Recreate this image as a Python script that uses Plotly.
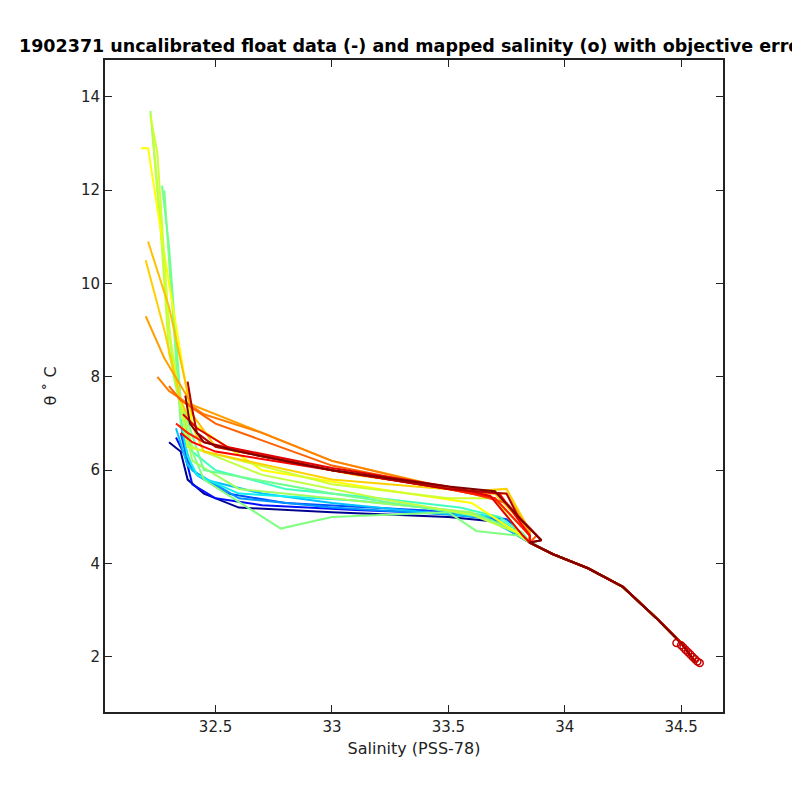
import plotly.graph_objects as go

deep_s = [33.85, 33.95, 34.1, 34.25, 34.4, 34.5, 34.56]
deep_t = [4.45, 4.2, 3.9, 3.5, 2.8, 2.3, 1.9]

profiles_s = [
    [32.30, 32.35, 32.38, 32.45, 32.60, 33.00, 33.50, 33.70, 33.80],
    [32.33, 32.37, 32.40, 32.50, 32.70, 33.10, 33.60, 33.72, 33.80],
    [32.35, 32.38, 32.42, 32.55, 32.80, 33.20, 33.55, 33.75, 33.82],
    [32.35, 32.37, 32.40, 32.60, 33.00, 33.50, 33.70, 33.80],
    [32.33, 32.38, 32.45, 32.70, 33.00, 33.40, 33.65, 33.80],
    [32.35, 32.38, 32.42, 32.60, 33.10, 33.50, 33.70, 33.82],
    [32.36, 32.40, 32.50, 32.80, 33.20, 33.55, 33.72, 33.82],
    [32.28, 32.30, 32.35, 32.45, 32.78, 33.00, 33.50, 33.62, 33.80],
    [32.22, 32.25, 32.32, 32.40, 32.60, 33.20, 33.60, 33.80],
    [32.27, 32.30, 32.35, 32.45, 33.00, 33.40, 33.65, 33.82],
    [32.23, 32.26, 32.30, 32.40, 32.70, 33.20, 33.60, 33.80],
    [32.18, 32.21, 32.30, 32.40, 32.70, 33.20, 33.60, 33.80],
    [32.22, 32.25, 32.30, 32.38, 33.00, 33.50, 33.70, 33.80],
    [32.20, 32.28, 32.35, 32.45, 33.00, 33.60, 33.75, 33.85],
    [32.21, 32.30, 32.40, 32.50, 33.10, 33.55, 33.70, 33.85],
    [32.20, 32.28, 32.40, 32.60, 33.00, 33.60, 33.75, 33.85],
    [32.25, 32.30, 32.45, 32.70, 33.00, 33.50, 33.70, 33.85],
    [32.30, 32.35, 32.50, 33.00, 33.60, 33.75, 33.88],
    [32.33, 32.38, 32.45, 33.00, 33.50, 33.70, 33.85],
    [32.35, 32.40, 32.50, 33.00, 33.50, 33.72, 33.85],
    [32.36, 32.42, 32.55, 33.00, 33.50, 33.68, 33.82],
    [32.38, 32.40, 32.42, 32.50, 33.00, 33.50, 33.75, 33.80, 33.90],
    [32.37, 32.39, 32.45, 32.60, 33.00, 33.50, 33.70, 33.82, 33.90],
]
profiles_t = [
    [6.60, 6.40, 5.80, 5.50, 5.20, 5.10, 5.00, 4.90, 4.60],
    [6.70, 6.30, 5.70, 5.40, 5.25, 5.15, 5.05, 4.90, 4.60],
    [6.80, 6.20, 5.90, 5.50, 5.30, 5.20, 5.10, 4.95, 4.60],
    [7.00, 6.50, 6.00, 5.40, 5.20, 5.05, 4.95, 4.60],
    [6.90, 6.10, 5.80, 5.50, 5.30, 5.10, 5.00, 4.60],
    [7.10, 6.30, 5.90, 5.50, 5.35, 5.15, 5.00, 4.60],
    [7.20, 6.40, 6.00, 5.60, 5.40, 5.20, 5.00, 4.65],
    [12.00, 10.50, 7.00, 5.80, 4.75, 5.00, 5.10, 4.70, 4.60],
    [13.70, 12.00, 8.00, 6.20, 5.60, 5.30, 5.10, 4.65],
    [12.10, 10.80, 7.50, 6.00, 5.50, 5.20, 5.00, 4.65],
    [13.20, 11.50, 8.50, 6.50, 5.90, 5.40, 5.05, 4.65],
    [12.90, 12.90, 10.00, 7.00, 6.00, 5.60, 5.30, 4.65],
    [13.60, 12.80, 9.00, 6.50, 5.70, 5.40, 5.40, 4.70],
    [10.50, 9.00, 7.50, 6.40, 5.80, 5.55, 5.60, 4.70],
    [10.90, 9.50, 7.20, 6.50, 5.90, 5.60, 5.50, 4.70],
    [9.30, 8.40, 7.40, 7.00, 6.20, 5.50, 5.50, 4.65],
    [8.00, 7.70, 7.20, 6.80, 6.20, 5.60, 5.40, 4.60],
    [7.80, 7.50, 7.00, 6.10, 5.50, 5.30, 4.60],
    [7.00, 6.80, 6.60, 6.00, 5.60, 5.40, 4.60],
    [6.80, 6.60, 6.40, 6.00, 5.60, 5.50, 4.60],
    [7.20, 6.90, 6.50, 6.05, 5.65, 5.45, 4.60],
    [7.90, 7.30, 6.80, 6.50, 6.00, 5.60, 5.50, 5.00, 4.50],
    [7.60, 7.00, 6.60, 6.40, 6.00, 5.65, 5.55, 4.90, 4.50],
]
profile_colors = [
    "#00008f", "#0010ff", "#0050ff", "#0090ff", "#00c0ff", "#10f0ef", "#40ffbf",
    "#80ff80", "#a0ff60", "#70ff90", "#c0ff40", "#ffff00", "#d0ff30", "#ffd000",
    "#ffc000", "#ffa000", "#ff8000", "#ff6000", "#ff2000", "#ff0000", "#e00000",
    "#b00000", "#800000",
]
mapped_s = [34.48, 34.50, 34.51, 34.52, 34.53, 34.54, 34.55, 34.56, 34.57, 34.58]
mapped_t = [2.30, 2.25, 2.20, 2.15, 2.10, 2.05, 2.00, 1.95, 1.90, 1.87]

fig = go.Figure()
for s, t, c in zip(profiles_s, profiles_t, profile_colors):
    fig.add_trace(go.Scatter(x=s + deep_s, y=t + deep_t, mode="lines",
                             line=dict(color=c, width=2), showlegend=False))
fig.add_trace(go.Scatter(x=mapped_s, y=mapped_t, mode="markers",
                         marker=dict(symbol="circle-open", size=7, color="rgb(200,0,0)", line=dict(width=1.5)),
                         showlegend=False))

ax = dict(showline=True, mirror="ticks", linecolor="#222", linewidth=2, ticks="inside",
          ticklen=7, tickcolor="#222", showgrid=False, zeroline=False,
          tickfont=dict(family="DejaVu Sans", size=15, color="#222"))
fig.update_layout(
    width=800, height=800, plot_bgcolor="white", paper_bgcolor="white",
    margin=dict(l=97, r=85, t=52, b=96),
    title=dict(text="<b>1902371 uncalibrated float data (-) and mapped salinity (o) with objective error</b>",
               x=0.5, xref="paper", xanchor="center", y=0.953, yanchor="middle",
               font=dict(family="DejaVu Sans", size=17.5, color="black")),
    xaxis=dict(ax, range=[32.025, 34.68], tickvals=[32.5, 33, 33.5, 34, 34.5],
               ticktext=["32.5", "33", "33.5", "34", "34.5"],
               title=dict(text="Salinity (PSS-78)", font=dict(family="DejaVu Sans", size=16, color="#222"), standoff=8)),
    yaxis=dict(ax, range=[0.82, 14.79], tickvals=[2, 4, 6, 8, 10, 12, 14],
               title=dict(text="θ ˚ C", font=dict(family="DejaVu Sans", size=16, color="#222"), standoff=20)),
)
fig.write_html("out.html")
